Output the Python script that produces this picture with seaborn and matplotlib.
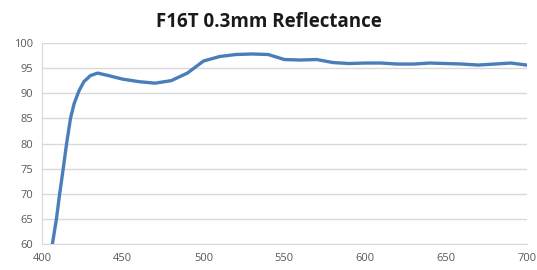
import numpy as np
import pandas as pd
import matplotlib
matplotlib.use("Agg")
import matplotlib.pyplot as plt
import seaborn as sns

wavelength = [406.5, 409, 411, 413.2, 415.3, 417.7, 420, 423, 426, 430, 434.5, 440,
              450, 460, 470, 480, 490, 500, 510, 520, 530, 540, 550, 560, 570,
              580, 590, 600, 610, 620, 630, 640, 650, 660, 670, 680, 690, 700]
reflectance = [60, 65, 70, 75, 80, 85, 88, 90.5, 92.3, 93.5, 94, 93.6,
               92.8, 92.3, 92.0, 92.5, 94.0, 96.4, 97.3, 97.7, 97.8, 97.7, 96.7, 96.6, 96.7,
               96.1, 95.9, 96.0, 96.0, 95.8, 95.8, 96.0, 95.9, 95.8, 95.6, 95.8, 96.0, 95.6]

df = pd.DataFrame({"wavelength": wavelength, "reflectance": reflectance})

sns.set_style("white")
plt.rcParams['font.family'] = ['Open Sans', 'DejaVu Sans']

fig = plt.figure(figsize=(5.37, 2.70), dpi=100)
ax = fig.add_axes([0.078, 0.096, 0.903, 0.745])

sns.lineplot(data=df, x="wavelength", y="reflectance", ax=ax, color="#4a7ebb", linewidth=2.4)

ax.set_xlim(400, 700)
ax.set_ylim(60, 100)
ax.set_xticks(range(400, 701, 50))
ax.set_yticks(range(60, 101, 5))
ax.yaxis.grid(True, color="#d9d9d9", linewidth=1)
ax.set_axisbelow(True)
ax.set_xlabel("")
ax.set_ylabel("")
for s in ["top", "right"]:
    ax.spines[s].set_visible(False)
for s in ["left", "bottom"]:
    ax.spines[s].set_color("#d9d9d9")
ax.tick_params(axis="both", colors="#595959", labelsize=8, length=3, width=1)
ax.tick_params(axis="both", color="#d9d9d9")
fig.suptitle("F16T 0.3mm Reflectance", x=0.5, y=0.918, va="center",
             fontsize=13.5, fontweight="bold", color="#1a1a1a")

plt.savefig("out.png", dpi=100)
